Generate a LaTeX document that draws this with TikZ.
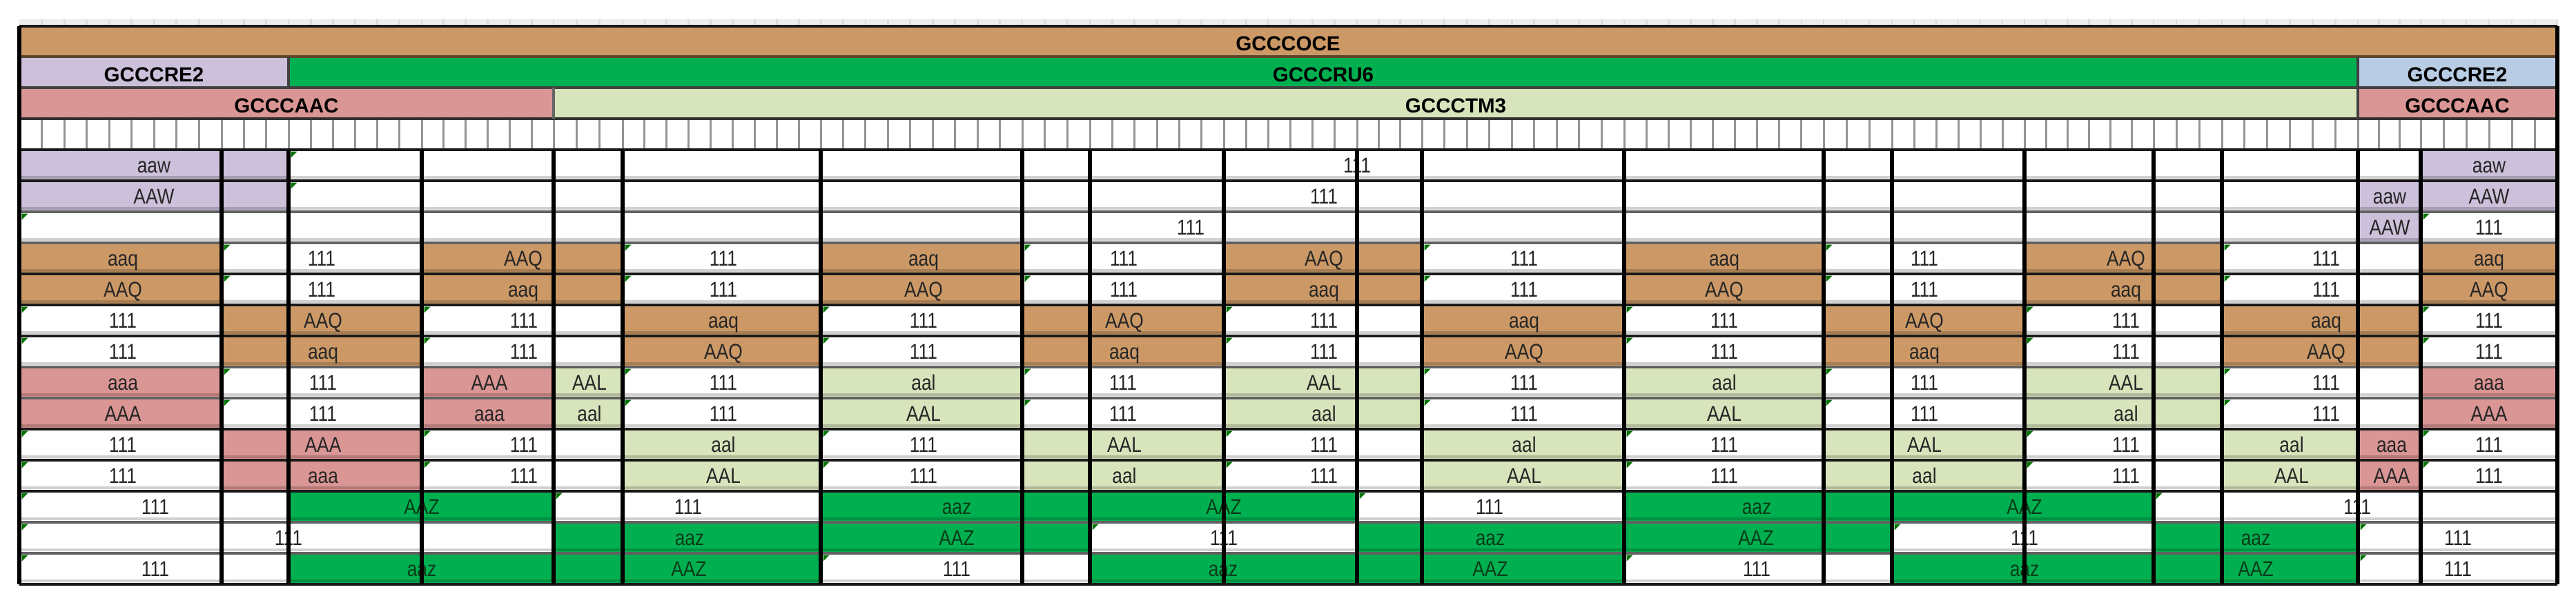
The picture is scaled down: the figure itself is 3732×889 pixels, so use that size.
\documentclass[tikz,border=0pt]{standalone}
\usepackage{fontspec}
\setmainfont{Liberation Sans}
\newfontfamily\datafont[FakeStretch=0.85]{Liberation Sans}
\definecolor{cbrown}{RGB}{204,153,102}
\definecolor{cgreen}{RGB}{0,176,80}
\definecolor{clav}{RGB}{204,192,218}
\definecolor{cblue}{RGB}{184,204,228}
\definecolor{cpink}{RGB}{218,150,148}
\definecolor{clgreen}{RGB}{216,228,188}
\definecolor{dgreentext}{RGB}{10,60,25}
\tikzset{
  dtext/.style={anchor=base, inner sep=0pt, font={\datafont\fontsize{7.75}{8}\selectfont}, text=black!85},
  htext/.style={anchor=base, inner sep=0pt, font={\bfseries\fontsize{7.4}{8}\selectfont}, text=black},
  vline/.style={line width=1.35pt, black},
  hdark/.style={line width=1.2pt, black!90},
  hgray/.style={line width=1.15pt, black!62},
  shadeline/.style={line width=0.9pt, black, opacity=0.18},
  tickline/.style={line width=0.75pt, black!42},
  faintline/.style={line width=0.7pt, black!14},
  tri/.style={fill=green!45!black},
}
\begin{document}
\begin{tikzpicture}[x=0.25pt,y=-0.25pt]
\useasboundingbox (0,0) rectangle (3732,889);
\def\CX{{28,321,418,611,802,902,1189,1481,1579,1773,1966,2060,2353,2642,2741,2933,3120,3219,3416,3507,3705}}
% faint band above
\fill[black!7] (28,28) rectangle (3705,38);
% body
\fill[white] (28,172) rectangle (3705,847);
% header fills
\fill[cbrown] (28,38) rectangle (3705,82);
\fill[clav] (28,82) rectangle (418,127);
\fill[cgreen] (418,82) rectangle (3416,127);
\fill[cblue] (3416,82) rectangle (3705,127);
\fill[cpink] (28,127) rectangle (802,172);
\fill[clgreen] (802,127) rectangle (3416,172);
\fill[cpink] (3416,127) rectangle (3705,172);
% cell fills
\foreach \r/\a/\b/\c in {
 1/1/2/clav, 1/20/20/clav,
 2/1/2/clav, 2/19/20/clav,
 3/19/19/clav,
 4/1/1/cbrown, 4/4/5/cbrown, 4/7/7/cbrown, 4/10/11/cbrown, 4/13/13/cbrown, 4/16/17/cbrown, 4/20/20/cbrown,
 5/1/1/cbrown, 5/4/5/cbrown, 5/7/7/cbrown, 5/10/11/cbrown, 5/13/13/cbrown, 5/16/17/cbrown, 5/20/20/cbrown,
 6/2/3/cbrown, 6/6/6/cbrown, 6/8/9/cbrown, 6/12/12/cbrown, 6/14/15/cbrown, 6/18/19/cbrown,
 7/2/3/cbrown, 7/6/6/cbrown, 7/8/9/cbrown, 7/12/12/cbrown, 7/14/15/cbrown, 7/18/19/cbrown,
 8/1/1/cpink, 8/4/4/cpink, 8/5/5/clgreen, 8/7/7/clgreen, 8/10/11/clgreen, 8/13/13/clgreen, 8/16/17/clgreen, 8/20/20/cpink,
 9/1/1/cpink, 9/4/4/cpink, 9/5/5/clgreen, 9/7/7/clgreen, 9/10/11/clgreen, 9/13/13/clgreen, 9/16/17/clgreen, 9/20/20/cpink,
 10/2/3/cpink, 10/6/6/clgreen, 10/8/9/clgreen, 10/12/12/clgreen, 10/14/15/clgreen, 10/18/18/clgreen, 10/19/19/cpink,
 11/2/3/cpink, 11/6/6/clgreen, 11/8/9/clgreen, 11/12/12/clgreen, 11/14/15/clgreen, 11/18/18/clgreen, 11/19/19/cpink,
 12/3/4/cgreen, 12/7/10/cgreen, 12/13/16/cgreen,
 13/5/8/cgreen, 13/11/14/cgreen, 13/17/18/cgreen,
 14/3/6/cgreen, 14/9/12/cgreen, 14/15/18/cgreen} {
  \pgfmathsetmacro\xa{\CX[\a-1]}
  \pgfmathsetmacro\xb{\CX[\b]}
  \pgfmathsetmacro\ya{217+(\r-1)*45}
  \fill[\c] (\xa,\ya) rectangle (\xb,\ya+45);
}
% ticks
\foreach \k/\u in {1/9,2/3,3/6,4/6,5/3,6/9,7/9,8/3,9/6,10/6,11/3,12/9,13/9,14/3,15/6,16/6,17/3,18/6,19/3,20/6} {
  \pgfmathsetmacro\xa{\CX[\k-1]}
  \pgfmathsetmacro\xb{\CX[\k]}
  \foreach \j in {1,...,\u} {
    \pgfmathsetmacro\xt{\xa+\j*(\xb-\xa)/\u}
    \draw[tickline] (\xt,173) -- (\xt,216);
    \draw[faintline] (\xt,28) -- (\xt,38);
  }
}
% header texts
\node[htext] (hoce) at (1866,73) {GCCCOCE};
\node[htext] (hrea) at (223,118) {GCCCRE2};
\node[htext] (hru) at (1917,118) {GCCCRU6};
\node[htext] (hreb) at (3560,118) {GCCCRE2};
\node[htext] (haaca) at (415,163) {GCCCAAC};
\node[htext] (htm) at (2109,163) {GCCCTM3};
\node[htext] (haacb) at (3560,163) {GCCCAAC};
% data texts
\foreach \r/\x/\t [count=\n] in {
 1/223/aaw, 1/1966/111, 1/3606/aaw,
 2/223/AAW, 2/1918/111, 2/3462/aaw, 2/3606/AAW,
 3/1725/111, 3/3462/AAW, 3/3606/111,
 4/178/aaq, 4/466/111, 4/758/AAQ, 4/1048/111, 4/1338/aaq, 4/1628/111, 4/1918/AAQ, 4/2208/111, 4/2498/aaq, 4/2788/111, 4/3080/AAQ, 4/3370/111, 4/3606/aaq,
 5/178/AAQ, 5/466/111, 5/758/aaq, 5/1048/111, 5/1338/AAQ, 5/1628/111, 5/1918/aaq, 5/2208/111, 5/2498/AAQ, 5/2788/111, 5/3080/aaq, 5/3370/111, 5/3606/AAQ,
 6/178/111, 6/468/AAQ, 6/759/111, 6/1048/aaq, 6/1338/111, 6/1629/AAQ, 6/1918/111, 6/2208/aaq, 6/2498/111, 6/2788/AAQ, 6/3080/111, 6/3370/aaq, 6/3606/111,
 7/178/111, 7/468/aaq, 7/759/111, 7/1048/AAQ, 7/1338/111, 7/1629/aaq, 7/1918/111, 7/2208/AAQ, 7/2498/111, 7/2788/aaq, 7/3080/111, 7/3370/AAQ, 7/3606/111,
 8/178/aaa, 8/468/111, 8/709/AAA, 8/854/AAL, 8/1048/111, 8/1338/aal, 8/1627/111, 8/1918/AAL, 8/2208/111, 8/2498/aal, 8/2788/111, 8/3080/AAL, 8/3370/111, 8/3606/aaa,
 9/178/AAA, 9/468/111, 9/709/aaa, 9/854/aal, 9/1048/111, 9/1338/AAL, 9/1627/111, 9/1918/aal, 9/2208/111, 9/2498/AAL, 9/2788/111, 9/3080/aal, 9/3370/111, 9/3606/AAA,
 10/178/111, 10/468/AAA, 10/759/111, 10/1048/aal, 10/1338/111, 10/1629/AAL, 10/1918/111, 10/2208/aal, 10/2498/111, 10/2788/AAL, 10/3080/111, 10/3320/aal, 10/3465/aaa, 10/3606/111,
 11/178/111, 11/468/aaa, 11/759/111, 11/1048/AAL, 11/1338/111, 11/1629/aal, 11/1918/111, 11/2208/AAL, 11/2498/111, 11/2788/aal, 11/3080/111, 11/3320/AAL, 11/3465/AAA, 11/3606/111} {
  \node[dtext] (d\n) at (\x,{217+(\r-1)*45+33.5}) {\t};
}
\foreach \r/\x/\t/\c [count=\n] in {
 12/225/111/black!85, 12/611/AAZ/dgreentext, 12/997/111/black!85, 12/1386/aaz/dgreentext, 12/1773/AAZ/dgreentext, 12/2158/111/black!85, 12/2545/aaz/dgreentext, 12/2933/AAZ/dgreentext, 12/3415/111/black!85,
 13/418/111/black!85, 13/999/aaz/dgreentext, 13/1386/AAZ/dgreentext, 13/1773/111/black!85, 13/2159/aaz/dgreentext, 13/2544/AAZ/dgreentext, 13/2933/111/black!85, 13/3268/aaz/dgreentext, 13/3561/111/black!85,
 14/225/111/black!85, 14/611/aaz/dgreentext, 14/998/AAZ/dgreentext, 14/1386/111/black!85, 14/1772/aaz/dgreentext, 14/2159/AAZ/dgreentext, 14/2545/111/black!85, 14/2933/aaz/dgreentext, 14/3268/AAZ/dgreentext, 14/3561/111/black!85} {
  \node[dtext, text=\c] (z\n) at (\x,{217+(\r-1)*45+33.5}) {\t};
}
% shade strips under each row
\foreach \i in {1,...,14} {
  \pgfmathsetmacro\yb{217+\i*45-5}
  \draw[shadeline] (28,\yb) -- (3705,\yb);
}
% horizontal lines
\foreach \i/\s in {0/hdark,1/hdark,2/hgray,3/hgray,4/hdark,5/hdark,6/hdark,7/hgray,8/hgray,9/hdark,10/hdark,11/hdark,12/hgray,13/hgray,14/hdark} {
  \draw[\s] (28,{217+\i*45}) -- (3705,{217+\i*45});
}
% vertical lines
\foreach \i in {0,...,20} {
  \pgfmathsetmacro\xv{\CX[\i]}
  \draw[vline] (\xv,217) -- (\xv,847);
}
% header borders
\draw[hdark] (28,38) -- (3705,38);
\draw[line width=1.1pt, black!55!cbrown] (28,82) -- (3705,82);
\draw[line width=1.1pt, black!75] (28,127) -- (3705,127);
\draw[line width=1.1pt, black!80] (28,172) -- (3705,172);
\draw[line width=0.9pt, black!75] (418,82) -- (418,127);
\draw[line width=0.9pt, black!75] (3416,82) -- (3416,172);
\draw[line width=0.9pt, black!60] (802,127) -- (802,172);
\draw[vline] (28,38) -- (28,217);
\draw[vline] (3705,38) -- (3705,217);
% error triangles
\foreach \r/\b in {
 1/2, 2/2, 3/0, 3/19,
 4/1, 4/5, 4/7, 4/11, 4/13, 4/17,
 5/1, 5/5, 5/7, 5/11, 5/13, 5/17,
 6/0, 6/3, 6/6, 6/9, 6/12, 6/15, 6/19,
 7/0, 7/3, 7/6, 7/9, 7/12, 7/15, 7/19,
 8/1, 8/5, 8/7, 8/11, 8/13, 8/17,
 9/1, 9/5, 9/7, 9/11, 9/13, 9/17,
 10/0, 10/3, 10/6, 10/9, 10/12, 10/15, 10/19,
 11/0, 11/3, 11/6, 11/9, 11/12, 11/15, 11/19,
 12/0, 12/4, 12/10, 12/16,
 13/0, 13/8, 13/14, 13/18,
 14/0, 14/6, 14/12, 14/18} {
  \pgfmathsetmacro\xv{\CX[\b]+3.5}
  \pgfmathsetmacro\yt{217+(\r-1)*45+2.5}
  \fill[tri] (\xv,\yt) -- ++(9,0) -- ++(-9,9) -- cycle;
}
\end{tikzpicture}
\end{document}
